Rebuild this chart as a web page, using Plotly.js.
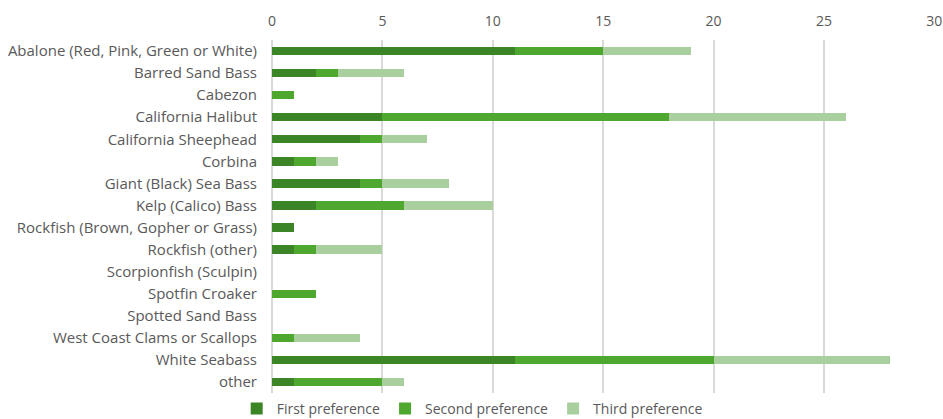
<!DOCTYPE html>
<html>
<head>
<meta charset="utf-8">
<script src="https://cdn.plot.ly/plotly-3.0.1.min.js"></script>
<style>
  html, body { margin: 0; padding: 0; background: #fff; }
  #chart { width: 943px; height: 419px; }
</style>
</head>
<body>
<div id="chart"></div>
<script>
// Species preferred by respondents, counted by preference rank
const species = [
  "Abalone (Red, Pink, Green or White)",
  "Barred Sand Bass",
  "Cabezon",
  "California Halibut",
  "California Sheephead",
  "Corbina",
  "Giant (Black) Sea Bass",
  "Kelp (Calico) Bass",
  "Rockfish (Brown, Gopher or Grass)",
  "Rockfish (other)",
  "Scorpionfish (Sculpin)",
  "Spotfin Croaker",
  "Spotted Sand Bass",
  "West Coast Clams or Scallops",
  "White Seabass",
  "other"
];
const firstPref  = [11, 2, 0, 5, 4, 1, 4, 2, 1, 1, 0, 0, 0, 0, 11, 1];
const secondPref = [4, 1, 1, 13, 1, 1, 1, 4, 0, 1, 0, 2, 0, 1, 9, 4];
const thirdPref  = [4, 3, 0, 8, 2, 1, 3, 4, 0, 3, 0, 0, 0, 3, 8, 1];
const xTicks = [0, 5, 10, 15, 20, 25, 30];

const mk = (name, vals, color) => ({
  type: "bar",
  orientation: "h",
  name: name,
  y: species,
  x: vals,
  marker: { color: color, line: { width: 0 } },
  hoverinfo: "name+x"
});

const data = [
  mk("First preference", firstPref, "#3b8526"),
  mk("Second preference", secondPref, "#4ea72e"),
  mk("Third preference", thirdPref, "#a9cf9f")
];

const textFont = "'Open Sans', Roboto, sans-serif";

const layout = {
  width: 943,
  height: 419,
  barmode: "stack",
  bargap: 0.62,
  paper_bgcolor: "#ffffff",
  plot_bgcolor: "#ffffff",
  margin: { l: 272, r: 8, t: 40, b: 26, autoexpand: false },
  font: { family: textFont, size: 15, color: "#595959" },
  xaxis: {
    side: "top",
    range: [0, 30.03],
    tickvals: xTicks,
    ticktext: xTicks.map(String),
    showgrid: true,
    gridcolor: "#d9d9d9",
    gridwidth: 2,
    zeroline: true,
    zerolinecolor: "#d9d9d9",
    zerolinewidth: 2,
    showline: false,
    ticks: "",
    ticklabelstandoff: 10,
    tickfont: { family: textFont, size: 14, color: "#595959" },
    fixedrange: true
  },
  yaxis: {
    type: "category",
    autorange: "reversed",
    showgrid: false,
    zeroline: false,
    showline: false,
    ticks: "",
    ticklabelstandoff: 14,
    tickfont: { family: textFont, size: 15, color: "#595959" },
    fixedrange: true
  },
  legend: {
    orientation: "h",
    xref: "container",
    yref: "container",
    x: 0.251,
    xanchor: "left",
    y: 0.024,
    yanchor: "middle",
    font: { family: textFont, size: 14, color: "#595959" },
    traceorder: "normal",
    itemwidth: 30,
    bgcolor: "rgba(0,0,0,0)"
  },
  showlegend: true
};

Plotly.newPlot("chart", data, layout, { displayModeBar: false, staticPlot: true });
</script>
</body>
</html>
